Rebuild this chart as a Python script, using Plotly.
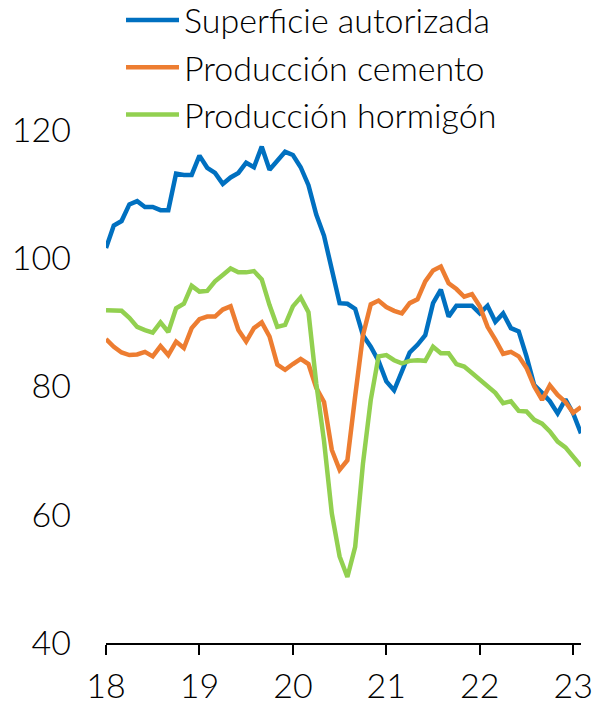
import plotly.graph_objects as go

years_start = 18
n_months = 62  # Jan 2018 .. Feb 2023
x_vals = [years_start + i / 12 for i in range(n_months)]

superficie = [101.6, 105.1, 105.8, 108.4, 108.9, 108.0, 108.0, 107.5, 107.5, 113.2,
              113.0, 113.0, 116.0, 114.1, 113.3, 111.6, 112.6, 113.3, 114.9, 114.2,
              117.4, 113.8, 115.2, 116.6, 116.1, 114.2, 111.4, 106.8, 103.5, 98.5,
              93.0, 92.9, 92.1, 88.0, 86.2, 84.0, 80.8, 79.4, 82.3, 85.3,
              86.5, 88.0, 93.0, 95.1, 90.9, 92.6, 92.6, 92.6, 91.4, 92.6,
              90.1, 91.4, 89.1, 88.6, 84.7, 80.2, 79.0, 77.7, 75.8, 78.0,
              75.8, 72.7]

cemento = [87.4, 86.2, 85.3, 84.9, 85.0, 85.4, 84.7, 86.3, 84.9, 87.0,
           86.0, 89.1, 90.5, 90.9, 90.9, 92.0, 92.5, 88.8, 87.0, 89.1,
           90.0, 87.8, 83.4, 82.6, 83.5, 84.3, 83.5, 79.8, 77.6, 70.1,
           67.0, 68.5, 78.5, 88.0, 92.8, 93.4, 92.4, 91.8, 91.4, 93.0,
           93.6, 96.4, 98.1, 98.7, 96.1, 95.2, 94.0, 94.4, 92.5, 89.3,
           87.3, 85.1, 85.4, 84.7, 82.9, 80.0, 77.9, 80.2, 78.7, 77.6,
           75.9, 76.8]

hormigon = [91.9, 91.9, 91.8, 90.7, 89.3, 88.8, 88.4, 90.0, 88.5, 92.2,
            92.9, 95.7, 94.8, 94.9, 96.4, 97.4, 98.4, 97.8, 97.8, 98.0,
            96.7, 92.7, 89.3, 89.6, 92.5, 93.9, 91.6, 80.5, 71.5, 60.2,
            53.5, 50.3, 55.0, 68.0, 77.9, 84.7, 84.9, 84.1, 83.6, 84.0,
            84.1, 84.0, 86.2, 85.2, 85.2, 83.5, 83.1, 82.1, 81.0, 80.1,
            79.0, 77.4, 77.7, 76.2, 76.1, 74.8, 74.2, 73.0, 71.4, 70.5,
            69.1, 67.6]

series_names = ["Superficie autorizada", "Producción cemento", "Producción hormigón"]
series_colors = ["#0070C0", "#ED7D31", "#92D050"]
x_tick_vals = [18, 19, 20, 21, 22, 23]
x_tick_text = ["18", "19", "20", "21", "22", "23"]
y_tick_vals = [40, 60, 80, 100, 120]

FONT = "Lato"
FS = 34

fig = go.Figure()
for name, vals, col in zip(series_names, [superficie, cemento, hormigon], series_colors):
    fig.add_trace(go.Scatter(x=x_vals, y=vals, mode="lines", name=name,
                             line=dict(color=col, width=4.5), legendgroup=name))

fig.update_layout(
    width=594, height=705,
    margin=dict(l=106, r=13, t=130, b=62, autoexpand=False),
    paper_bgcolor="white", plot_bgcolor="white",
    font=dict(family=FONT, size=FS, color="black", weight=300),
    showlegend=True,
    legend=dict(x=0.0316, xanchor="left", y=1.27, yanchor="top",
                font=dict(family=FONT, size=FS, color="black", weight=300),
                bgcolor="rgba(0,0,0,0)", tracegroupgap=0, itemwidth=53),
    xaxis=dict(range=[18, 18 + 61 / 12], tickvals=x_tick_vals, ticktext=x_tick_text,
               showgrid=False, zeroline=False, showline=True, linecolor="black", linewidth=2,
               ticks="outside", ticklen=10, tickwidth=2, tickcolor="black",
               ticklabelstandoff=2, automargin=False,
               tickfont=dict(family=FONT, size=FS, weight=300)),
    yaxis=dict(range=[40, 120], tickvals=y_tick_vals, showgrid=False, zeroline=False,
               showline=False, ticks="", ticklabelstandoff=34, automargin=False,
               tickfont=dict(family=FONT, size=FS, weight=300)),
)

fig.write_html("out.html",
               config={"displayModeBar": False},
               post_script="document.body.style.margin='0px';document.body.style.overflow='hidden';")
